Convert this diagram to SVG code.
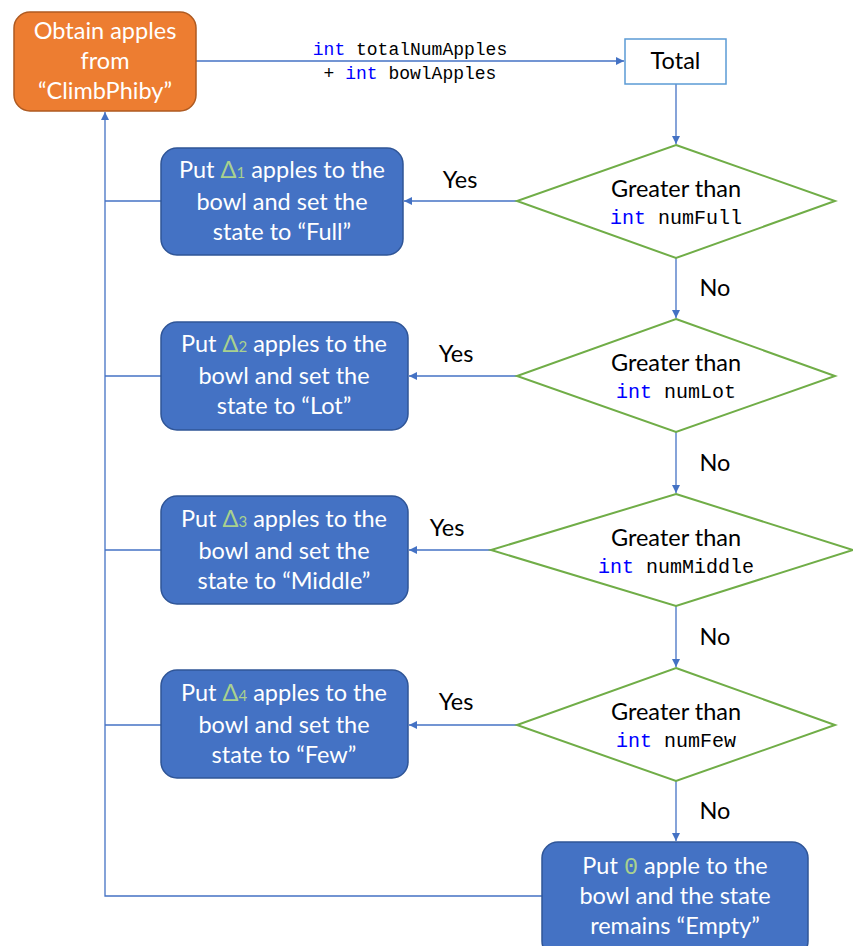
<svg xmlns="http://www.w3.org/2000/svg" width="853" height="946" viewBox="0 0 853 946">
<style>
.t{font-family:Lato,"Open Sans",sans-serif;font-size:23.5px;text-anchor:middle}
.w{fill:#ffffff}
.k{fill:#000000}
.c{font-family:"Liberation Mono","DejaVu Sans Mono",monospace;font-size:18px;text-anchor:middle;fill:#000}
.cd{font-size:20px}
.kw{fill:#0000ff}
.d{fill:#a9d18e}
.box{fill:#4472c4;stroke:#2f5597;stroke-width:1.5}
.dia{fill:#fff;stroke:#70ad47;stroke-width:2}
.ln{stroke:#4472c4;stroke-width:1.3;fill:none}
</style>
<defs>
<marker id="ah" viewBox="0 0 10 10" refX="10" refY="5" markerWidth="8" markerHeight="8" markerUnits="userSpaceOnUse" orient="auto">
<path d="M0,0 L10,5 L0,10 z" fill="#4472c4"/>
</marker>
</defs>
<rect width="853" height="946" fill="#fff"/>
<g id="connectors">
<path class="ln" d="M196,61 H624" marker-end="url(#ah)"/>
<path class="ln" d="M676,84 V144" marker-end="url(#ah)"/>
<path class="ln" d="M676,258 V318" marker-end="url(#ah)"/>
<path class="ln" d="M676,432 V493" marker-end="url(#ah)"/>
<path class="ln" d="M676,606 V667" marker-end="url(#ah)"/>
<path class="ln" d="M676,781 V841" marker-end="url(#ah)"/>
<path class="ln" d="M517,201 H404" marker-end="url(#ah)"/>
<path class="ln" d="M517,376 H409" marker-end="url(#ah)"/>
<path class="ln" d="M491,550 H409" marker-end="url(#ah)"/>
<path class="ln" d="M517,725 H409" marker-end="url(#ah)"/>
<path class="ln" d="M161,201 H105"/>
<path class="ln" d="M161,376 H105"/>
<path class="ln" d="M161,550 H105"/>
<path class="ln" d="M161,725 H105"/>
<path class="ln" d="M542,896 H105 V112" marker-end="url(#ah)"/>
<text class="c" x="410" y="55"><tspan class="kw">int</tspan> totalNumApples</text>
<text class="c" x="410" y="79">+ <tspan class="kw">int</tspan> bowlApples</text>
<text class="t k" x="460" y="188">Yes</text>
<text class="t k" x="456" y="362">Yes</text>
<text class="t k" x="447" y="536">Yes</text>
<text class="t k" x="456" y="710">Yes</text>
<text class="t k" x="715" y="296">No</text>
<text class="t k" x="715" y="471">No</text>
<text class="t k" x="715" y="645">No</text>
<text class="t k" x="715" y="819">No</text>
</g>
<g id="start">
<rect x="14" y="12" width="182" height="99" rx="16" fill="#ed7d31" stroke="#ae5a21" stroke-width="1.5"/>
<text class="t w" x="105" y="39">Obtain apples</text>
<text class="t w" x="105" y="69">from</text>
<text class="t w" x="105" y="99">“ClimbPhiby”</text>
</g>
<g id="total">
<rect x="625" y="39" width="101" height="45" fill="#fff" stroke="#5b9bd5" stroke-width="1.5"/>
<text class="t k" x="675.5" y="69">Total</text>
</g>
<g id="dec1">
<polygon class="dia" points="676,145 835,201 676,258 517,201"/>
<text class="t k" x="676" y="197">Greater than</text>
<text class="c cd" x="676" y="224"><tspan class="kw">int</tspan> numFull</text>
</g>
<g id="dec2">
<polygon class="dia" points="676,319 835,376 676,432 517,376"/>
<text class="t k" x="676" y="371">Greater than</text>
<text class="c cd" x="676" y="398"><tspan class="kw">int</tspan> numLot</text>
</g>
<g id="dec3">
<polygon class="dia" points="676,494 853,550 676,606 491,550"/>
<text class="t k" x="676" y="546">Greater than</text>
<text class="c cd" x="676" y="573"><tspan class="kw">int</tspan> numMiddle</text>
</g>
<g id="dec4">
<polygon class="dia" points="676,668 835,725 676,781 517,725"/>
<text class="t k" x="676" y="720">Greater than</text>
<text class="c cd" x="676" y="747"><tspan class="kw">int</tspan> numFew</text>
</g>
<g id="full">
<rect class="box" x="161" y="148" width="242" height="107" rx="16"/>
<text class="t w" x="282" y="178">Put <tspan class="d">Δ<tspan font-size="15">1</tspan></tspan> apples to the</text>
<text class="t w" x="282" y="210">bowl and set the</text>
<text class="t w" x="282" y="240">state to “Full”</text>
</g>
<g id="lot">
<rect class="box" x="161" y="322" width="247" height="108" rx="16"/>
<text class="t w" x="284" y="352">Put <tspan class="d">Δ<tspan font-size="15">2</tspan></tspan> apples to the</text>
<text class="t w" x="284" y="384">bowl and set the</text>
<text class="t w" x="284" y="414">state to “Lot”</text>
</g>
<g id="middle">
<rect class="box" x="161" y="496" width="247" height="108" rx="16"/>
<text class="t w" x="284" y="527">Put <tspan class="d">Δ<tspan font-size="15">3</tspan></tspan> apples to the</text>
<text class="t w" x="284" y="559">bowl and set the</text>
<text class="t w" x="284" y="589">state to “Middle”</text>
</g>
<g id="few">
<rect class="box" x="161" y="670" width="247" height="108" rx="16"/>
<text class="t w" x="284" y="701">Put <tspan class="d">Δ<tspan font-size="15">4</tspan></tspan> apples to the</text>
<text class="t w" x="284" y="733">bowl and set the</text>
<text class="t w" x="284" y="763">state to “Few”</text>
</g>
<g id="empty">
<rect class="box" x="542" y="842" width="266" height="115" rx="16"/>
<text class="t w" x="675" y="874">Put <tspan class="d" font-family="Liberation Mono,monospace">0</tspan> apple to the</text>
<text class="t w" x="675" y="904">bowl and the state</text>
<text class="t w" x="675" y="934">remains “Empty”</text>
</g>
</svg>
